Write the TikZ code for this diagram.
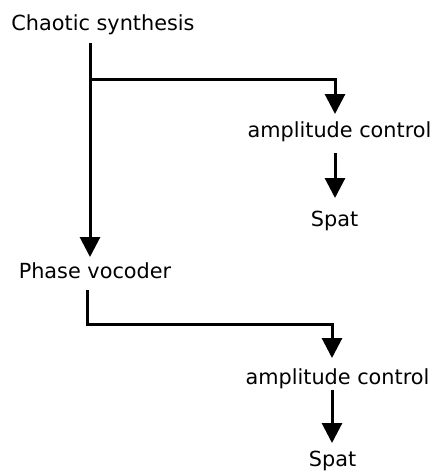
\documentclass[tikz,border=0pt]{standalone}
\usepackage{fontspec}
\setmainfont{DejaVu Sans}
\usetikzlibrary{arrows.meta}
\begin{document}
\begin{tikzpicture}[x=1pt,y=-1pt,
  lbl/.style={inner sep=0pt,anchor=base,font=\fontsize{20.8}{24}\selectfont},
  conn/.style={line width=3pt,-{Triangle[width=20pt,length=20pt]}}]
\useasboundingbox (0,0) rectangle (435,472);
\node[lbl] (cs) at (103,30) {Chaotic synthesis};
\node[lbl] (ac1) at (339.5,137) {amplitude control};
\node[lbl] (sp1) at (334.5,226) {Spat};
\node[lbl] (pv) at (95,278) {Phase vocoder};
\node[lbl] (ac2) at (337.5,384) {amplitude control};
\node[lbl] (sp2) at (332.5,466.5) {Spat};
\coordinate (a0) at (90,43);
\coordinate (a1) at (90,257);
\coordinate (j1) at (90,79);
\coordinate (b1) at (335,114);
\coordinate (c0) at (335,153);
\coordinate (c1) at (335,198);
\coordinate (d0) at (87,290);
\coordinate (d1) at (332,358);
\coordinate (e0) at (332,390);
\coordinate (e1) at (332,443);
\draw[conn] (a0) -- (a1);
\draw[conn] (j1) -| (b1);
\draw[conn] (c0) -- (c1);
\draw[conn] (d0) |- (332,324) -- (d1);
\draw[conn] (e0) -- (e1);
\end{tikzpicture}
\end{document}
